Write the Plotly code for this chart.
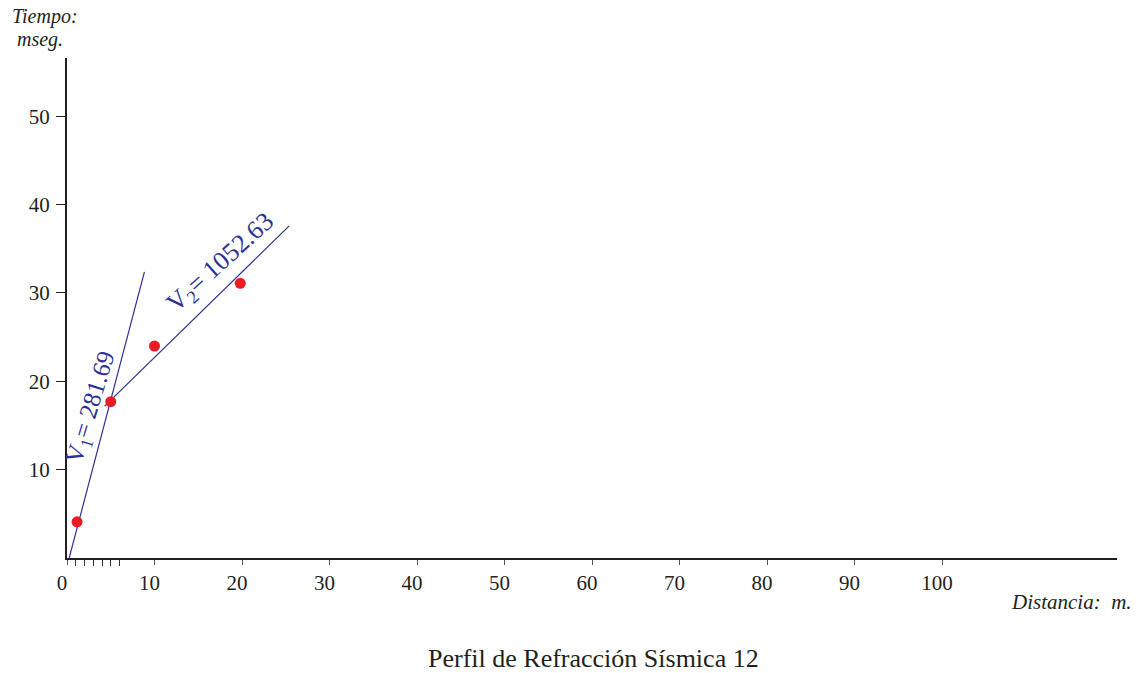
import plotly.graph_objects as go

# Data
dist = [1.15, 5.0, 10.0, 19.8]          # m
time = [4.1, 17.7, 24.0, 31.1]          # ms
line1_x = [0.25, 8.85]
line1_y = [0.0, 32.4]
line2_x = [4.3, 25.4]
line2_y = [17.2, 37.6]
v1_label = "V<sub>1</sub>= 281.69"
v2_label = "V<sub>2</sub>= 1052.63"
v1_pos = (2.85, 17.0)
v2_pos = (17.6, 33.4)
x_ticks = [0, 10, 20, 30, 40, 50, 60, 70, 80, 90, 100]
x_minor = [1, 2, 3, 4, 5, 6]
y_ticks = [10, 20, 30, 40, 50]
title_text = "Perfil de Refracción Sísmica 12"

BLUE = "#2e3192"
RED = "#ed1c24"
INK = "#231f20"
FONT = "Liberation Serif, Times New Roman, serif"

fig = go.Figure()
fig.add_trace(go.Scatter(x=line1_x, y=line1_y, mode="lines",
                         line=dict(color=BLUE, width=1.2), hoverinfo="skip"))
fig.add_trace(go.Scatter(x=line2_x, y=line2_y, mode="lines",
                         line=dict(color=BLUE, width=1.2), hoverinfo="skip"))
fig.add_trace(go.Scatter(x=dist, y=time, mode="markers",
                         marker=dict(color=RED, size=11)))

fig.update_layout(
    width=1144, height=673,
    margin=dict(l=67, r=27, t=58, b=115),
    paper_bgcolor="white", plot_bgcolor="white",
    showlegend=False,
    font=dict(family=FONT, size=21, color=INK),
    xaxis=dict(range=[0, 120], tickvals=x_ticks, ticktext=[str(v) for v in x_ticks],
               showgrid=False, zeroline=False, showline=True, linecolor=INK, linewidth=2,
               ticks="outside", ticklen=5, tickcolor="#555", tickwidth=1,
               ticklabelstandoff=0, ticklabelshift=-5,
               minor=dict(tickvals=x_minor, ticks="outside", ticklen=6, tickcolor="#333", tickwidth=1),
               tickfont=dict(family=FONT, size=21, color=INK), fixedrange=True),
    yaxis=dict(range=[0, 56.6], tickvals=y_ticks, showgrid=False, zeroline=False,
               showline=True, linecolor=INK, linewidth=2,
               ticks="outside", ticklen=9, tickcolor=INK, tickwidth=1,
               ticklabelstandoff=2,
               tickfont=dict(family=FONT, size=21, color=INK), fixedrange=True),
)

# Velocity labels along the lines
fig.add_annotation(x=v1_pos[0], y=v1_pos[1], text=v1_label, showarrow=False, textangle=-73,
                   font=dict(family=FONT, size=25, color=BLUE))
fig.add_annotation(x=v2_pos[0], y=v2_pos[1], text=v2_label, showarrow=False, textangle=-42,
                   font=dict(family=FONT, size=26, color=BLUE))

# Axis titles and caption
fig.add_annotation(xref="paper", yref="paper", x=-0.054, y=1.082, xanchor="left", yanchor="middle",
                   text="<i>Tiempo:</i>", showarrow=False,
                   font=dict(family=FONT, size=20, color=INK))
fig.add_annotation(xref="paper", yref="paper", x=-0.050, y=1.036, xanchor="left", yanchor="middle",
                   text="<i>mseg.</i>", showarrow=False,
                   font=dict(family=FONT, size=20, color=INK))
fig.add_annotation(xref="paper", yref="paper", x=1.016, y=-0.088, xanchor="right", yanchor="middle",
                   text="<i>Distancia:  m.</i>", showarrow=False,
                   font=dict(family=FONT, size=21, color=INK))
fig.add_annotation(xref="paper", yref="paper", x=0.501, y=-0.2, xanchor="center", yanchor="middle",
                   text=title_text, showarrow=False,
                   font=dict(family=FONT, size=26, color=INK))

fig.write_html("out.html")
